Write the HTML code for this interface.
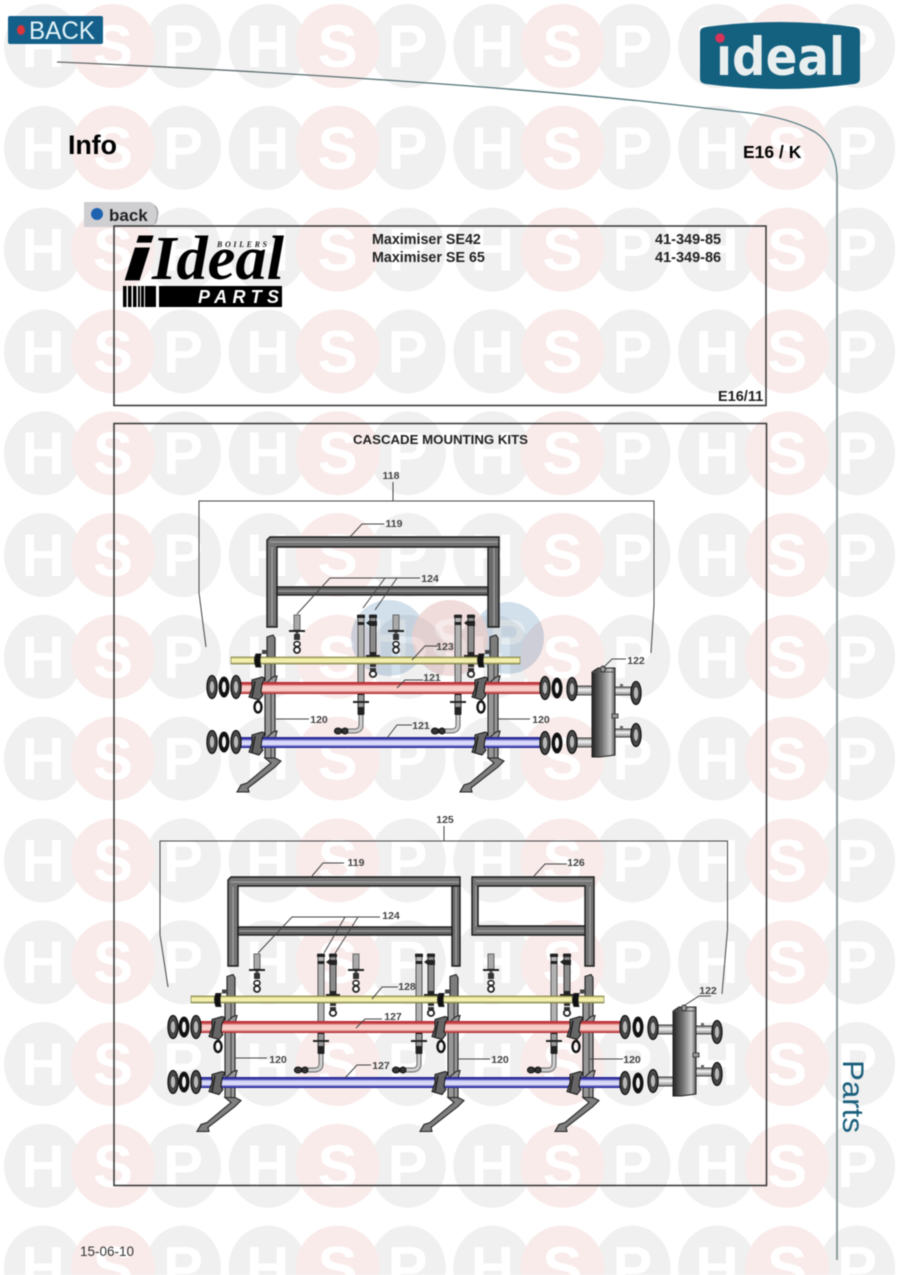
<!DOCTYPE html>
<html><head><meta charset="utf-8"><title>Cascade Mounting Kits</title>
<style>html,body{margin:0;padding:0;background:#fff}svg{display:block;filter:blur(.45px)}text{font-family:"Liberation Sans",sans-serif}</style>
</head><body>
<svg width="898" height="1275" viewBox="0 0 898 1275" xmlns="http://www.w3.org/2000/svg">
<defs>
<linearGradient id="line" x1="0" x2="1" y1="0" y2="0"><stop offset="0" stop-color="#666"/><stop offset=".6" stop-color="#4f7478"/><stop offset="1" stop-color="#5a7f86"/></linearGradient>
<linearGradient id="sep" x1="0" x2="1" y1="0" y2="0"><stop offset="0" stop-color="#222"/><stop offset=".45" stop-color="#777"/><stop offset=".8" stop-color="#ccc"/><stop offset="1" stop-color="#555"/></linearGradient>
<linearGradient id="rp" x1="0" x2="0" y1="0" y2="1"><stop offset="0" stop-color="#b3242c"/><stop offset=".2" stop-color="#c94a4e"/><stop offset=".34" stop-color="#f8c8c4"/><stop offset=".72" stop-color="#f9d0cb"/><stop offset=".86" stop-color="#cf5f60"/><stop offset="1" stop-color="#a52028"/></linearGradient>
<linearGradient id="bp" x1="0" x2="0" y1="0" y2="1"><stop offset="0" stop-color="#1d1d8a"/><stop offset=".2" stop-color="#4040b0"/><stop offset=".36" stop-color="#d4d4f8"/><stop offset=".7" stop-color="#dcdcfb"/><stop offset=".86" stop-color="#4646b8"/><stop offset="1" stop-color="#1d1d80"/></linearGradient>
<linearGradient id="yp" x1="0" x2="0" y1="0" y2="1"><stop offset="0" stop-color="#8a8a48"/><stop offset=".25" stop-color="#f0eda2"/><stop offset=".7" stop-color="#f6f3b4"/><stop offset="1" stop-color="#808044"/></linearGradient>
<linearGradient id="wp" x1="0" x2="0" y1="0" y2="1"><stop offset="0" stop-color="#777"/><stop offset=".4" stop-color="#f4f4f4"/><stop offset="1" stop-color="#888"/></linearGradient>

<g id="t">
<ellipse cx="43" cy="46" rx="39" ry="42" fill="#f0f0f0"/>
<ellipse cx="183" cy="46" rx="38" ry="42" fill="#f0f0f0"/>
<text x="43" y="67" font-size="60" font-weight="700" fill="#fff" text-anchor="middle">H</text>
<text x="183" y="67" font-size="60" font-weight="700" fill="#fff" text-anchor="middle">P</text>
<circle cx="113" cy="46" r="42" fill="#f9ebea"/>
<text x="113" y="67" font-size="60" font-weight="700" fill="#fff" text-anchor="middle">S</text>
</g>
<g id="r"><use href="#t"/><use href="#t" x="224.7"/><use href="#t" x="449.4"/><use href="#t" x="674.1"/></g>

<g id="stand" stroke="#222" stroke-width="1.100">
<path d="M267 637l6-2 2 3v24h-8z" fill="#7c7c7c"/>
<path d="M265 660h10v98h-10z" fill="#979797"/>
<path d="M271 660v98" stroke="#444" fill="none"/>
<path d="M265 758h10l6 3-6 6-27 21 1 4h-12l4-7 6-2 24-20z" fill="#7f7f7f"/>
<path d="M265 684l8-7 4-1-2 8-10 8zM265 739l8-7 4-1-2 8-10 8z" fill="#999"/>
</g>
<g id="clampY"><path d="M256 654q-3 6 0 13l5 0q-2-6 0-13z" fill="#111" stroke="#222"/><path d="M262 654h6v-4h-6z" fill="#444"/></g>
<g id="clamp"><path d="M252 680l10-3 3 1-3 6-1 8 2 3-4 5-10-3 3-9z" fill="#666" stroke="#111"/><path d="M255 681l-3 16" stroke="#222" stroke-width="1.6" fill="none"/></g>
<g id="ring"><ellipse cx="258" cy="707" rx="3.5" ry="5.5" fill="none" stroke="#111" stroke-width="2.4"/></g>

<g id="fl"><ellipse cx="0" cy="0" rx="5" ry="11.500" fill="#4a4a4a" stroke="#111" stroke-width="1.300"/><ellipse cx="0" cy="0" rx="2.800" ry="6.500" fill="#b8b8b8" stroke="#333"/></g>
<g id="wsh"><ellipse cx="0" cy="0" rx="5.500" ry="10.500" fill="#111"/><ellipse cx="0" cy="0" rx="2" ry="5.500" fill="#f2f2f2"/></g>

<g id="sepa">
<rect x="615" y="687" width="22" height="8" fill="url(#wp)" stroke="#444"/>
<rect x="615" y="729" width="22" height="8" fill="url(#wp)" stroke="#444"/>
<rect x="620" y="684" width="3" height="4" fill="#666"/><rect x="620" y="726" width="3" height="4" fill="#666"/>
<rect x="572" y="686" width="21" height="9" fill="url(#wp)" stroke="#444"/>
<rect x="572" y="738" width="21" height="9" fill="url(#wp)" stroke="#444"/>
<use href="#fl" x="572" y="689"/><use href="#fl" x="572" y="742"/>
<use href="#fl" x="636" y="693"/><use href="#fl" x="636" y="735"/>
<path d="M592 672l6-4h17v87l-15 2h-8z" fill="url(#sep)" stroke="#222"/>
<path d="M592 672h23" stroke="#555" fill="none"/>
<ellipse cx="603" cy="669" rx="2.5" ry="3" fill="#999" stroke="#333"/>
<rect x="612" y="714" width="6" height="4" fill="#999" stroke="#444"/>
</g>

<g id="bolt">
<rect x="-3" y="0" width="6" height="15" fill="#aaa" stroke="#666"/>
<rect x="-1.5" y="15" width="3" height="10" fill="#555"/>
<path d="M-8 16h16" stroke="#222" stroke-width="2"/>
<rect x="-3" y="19" width="6" height="6" fill="#333"/>
<ellipse cx="0" cy="29" rx="3" ry="2.4" fill="#fff" stroke="#222" stroke-width="1.6"/>
<ellipse cx="0" cy="35" rx="3" ry="3" fill="#fff" stroke="#222" stroke-width="1.8"/>
</g>
<g id="long">
<rect x="-3" y="0" width="6" height="68" fill="#b2b2b2" stroke="#555"/>
<rect x="-4" y="0" width="8" height="3" fill="#222"/><rect x="-3.500" y="7" width="7" height="3" fill="#222"/>
<rect x="-3" y="73" width="6" height="26" fill="#999" stroke="#333"/>
<rect x="-3" y="77" width="6" height="3" fill="#111"/><path d="M-8 87h16" stroke="#222" stroke-width="2"/><rect x="-3" y="92" width="6" height="8" fill="#222"/>
<path d="M0 100v10q0 6-7 6h-14" fill="none" stroke="#666" stroke-width="5"/>
<path d="M0 100v10q0 6-7 6h-14" fill="none" stroke="#ccc" stroke-width="3"/>
<ellipse cx="-23" cy="116" rx="3.600" ry="3" fill="#333" stroke="#111"/><ellipse cx="-16" cy="116" rx="3" ry="3" fill="#333" stroke="#111"/>
</g>
<g id="tube">
<rect x="-3" y="0" width="6" height="40" fill="#8b8b8b" stroke="#333"/>
<rect x="-4" y="0" width="8" height="3" fill="#222"/><path d="M-3 5l-4 3 4 3z M-3 6h7v5h-7z" fill="#222"/>
<rect x="-3" y="37" width="6" height="5" fill="#222"/>
<path d="M-7 41h14" stroke="#222" stroke-width="2"/>
<rect x="-3" y="48" width="6" height="4" fill="#333"/><rect x="-3" y="53" width="6" height="3" fill="#333"/>
<ellipse cx="0" cy="59" rx="3.200" ry="3" fill="#fff" stroke="#222" stroke-width="1.800"/>
</g>

<g id="frame1" fill="#757575" stroke="#1c1c1c" stroke-width="1.400">
<path d="M267 540l3-3h229v10h-222v80h-10z"/>
<path d="M488 547h11v80h-11z" fill="#6c6c6c"/>
<rect x="277" y="587" width="211" height="8" fill="#666"/>
<path d="M278 591h209M270 542h228" stroke="#a8a8a8" stroke-width="1" fill="none"/>
<path d="M272 547v78M494 548v78" stroke="#a8a8a8" stroke-width="1" fill="none"/>
</g>
</defs>

<rect width="898" height="1275" fill="#fff"/>
<use href="#r"/><use href="#r" y="101.8"/><use href="#r" y="203.6"/><use href="#r" y="305.4"/><use href="#r" y="407.2"/><use href="#r" y="509"/><use href="#r" y="610.8"/><use href="#r" y="712.6"/><use href="#r" y="814.4"/><use href="#r" y="916.2"/><use href="#r" y="1018"/><use href="#r" y="1119.8"/><use href="#r" y="1221.600"/>

<path d="M57 62C250 70 500 86 650 102L750 113Q790 118 815 132Q835 145 837 175V1260" fill="none" stroke="url(#line)" stroke-width="1.300"/>
<path d="M837 175V1260" fill="none" stroke="#8f9c9e" stroke-width="2"/>
<text transform="translate(843 1060) rotate(90)" font-size="30" fill="#1a5f7d" textLength="73" lengthAdjust="spacingAndGlyphs">Parts</text>

<rect x="8" y="16" width="95" height="28" rx="2" fill="#15608a"/>
<ellipse cx="21" cy="30" rx="4" ry="5" fill="#d8353c"/>
<text x="29" y="39" font-size="25" fill="#e4f4f8" textLength="66" lengthAdjust="spacingAndGlyphs">BACK</text>

<path d="M700 32Q700 28 706 27Q780 17 854 27Q860 28 860 32V79Q860 83 854 84Q780 94 706 84Q700 83 700 79Z" fill="#14607f"/>
<text x="716" y="75" font-size="53" font-weight="700" fill="#e9eeee" style="font-family:'DejaVu Sans',sans-serif" textLength="129" lengthAdjust="spacingAndGlyphs">ıdeal</text>
<circle cx="720" cy="38" r="4.800" fill="#d8335a"/>

<text x="68" y="154" font-size="27" font-weight="700" fill="#000" textLength="49">Info</text>
<text x="743" y="158" font-size="17.500" font-weight="700" fill="#000">E16 / K</text>

<path d="M84 202h66q8 3 9 11-2 7-6 14H84z" fill="#cfcfd2"/>
<path d="M155 206q5 7 0 18" stroke="#999" fill="none"/>
<circle cx="97" cy="214" r="6" fill="#1f62b0"/>
<text x="109" y="221" font-size="17" font-weight="700" fill="#222">back</text>

<rect x="114" y="226" width="652" height="179.500" fill="none" stroke="#333" stroke-width="1.500"/>
<rect x="114" y="423.500" width="652.500" height="762" fill="none" stroke="#333" stroke-width="1.500"/>

<text x="124" y="280" font-size="60" font-weight="700" font-style="italic" fill="#000" stroke="#000" stroke-width="1" textLength="27" lengthAdjust="spacingAndGlyphs">i</text>
<text x="152" y="279" font-size="62" font-weight="700" font-style="italic" fill="#000" style="font-family:'Liberation Serif',serif" textLength="132" lengthAdjust="spacingAndGlyphs">Ideal</text>
<text x="217" y="247" font-size="8" font-weight="700" font-style="italic" fill="#222" style="font-family:'Liberation Serif',serif" textLength="50">BOILERS</text>
<path d="M123 286h3.500v21H123zM128 286h3.500v21H128zM133 286h3.500v21H133zM138 286h2v21h-2zM141 286h3v21h-3zM145 286h11v21H145z" fill="#000"/>
<rect x="159" y="286" width="123" height="21" fill="#000"/>
<text x="198" y="303" font-size="18" font-weight="700" font-style="italic" fill="#fff" textLength="81">PARTS</text>

<g font-weight="700" fill="#222">
<text x="372" y="244" font-size="14.300">Maximiser SE42</text>
<text x="372" y="262" font-size="14.300">Maximiser SE 65</text>
<text x="655" y="244" font-size="14.500">41-349-85</text>
<text x="655" y="262" font-size="14.500">41-349-86</text>
<text x="718" y="401" font-size="14.500">E16/11</text>
<text x="353" y="444" font-size="13" textLength="175" lengthAdjust="spacingAndGlyphs">CASCADE MOUNTING KITS</text>
</g>
<text x="80" y="1256" font-size="13.500" fill="#333">15-06-10</text>

<g style="mix-blend-mode:multiply">
<circle cx="389" cy="638" r="38" fill="#d2e0ec"/>
<circle cx="508" cy="638" r="36" fill="#d2e0ec"/>
<circle cx="450" cy="638" r="38" fill="#f1dcdc"/>
<text x="389" y="658" font-size="56" font-weight="700" fill="#e4ecf2" text-anchor="middle">H</text>
<text x="450" y="658" font-size="56" font-weight="700" fill="#f6eaea" text-anchor="middle">S</text>
<text x="508" y="658" font-size="56" font-weight="700" fill="#e4ecf2" text-anchor="middle">P</text>
</g>

<g>
<use href="#frame1"/>
<use href="#bolt" x="297" y="615"/><use href="#bolt" x="396" y="615"/>
<use href="#long" x="361" y="615"/><use href="#long" x="458" y="615"/>
<use href="#tube" x="373" y="615"/><use href="#tube" x="471" y="615"/>
<use href="#stand"/><use href="#stand" x="223"/>
<rect x="231" y="657" width="289" height="7" fill="url(#yp)" stroke="#77773a" stroke-width=".6"/>
<rect x="235" y="682" width="306" height="12" fill="url(#rp)"/>
<rect x="235" y="737" width="306" height="11" fill="url(#bp)"/>
<use href="#clampY"/><use href="#clampY" x="223"/>
<use href="#clamp"/><use href="#clamp" x="223"/><use href="#clamp" y="55"/><use href="#clamp" x="223" y="55"/>
<use href="#ring"/><use href="#ring" x="223"/>
<use href="#fl" x="212" y="687"/><use href="#wsh" x="224" y="687"/><use href="#fl" x="236" y="687"/>
<use href="#fl" x="212" y="742"/><use href="#wsh" x="224" y="742"/><use href="#fl" x="236" y="742"/>
<use href="#fl" x="545" y="688"/><use href="#wsh" x="557" y="688"/>
<use href="#fl" x="545" y="743"/><use href="#wsh" x="557" y="743"/>
<use href="#sepa"/>
</g>

<g fill="none" stroke="#444" stroke-width="1">
<path d="M393 482V501M206 647L199 593V501H654V605L651 653"/>
<path d="M350 537L362 524H384M297 614L330 578H420M363 608L385 578M375 610L397 578"/>
<path d="M412 660L425 646H438M397 688L405 680H423M276 719H309M387 738L397 725H412M498 719H530M603 668L612 659H626"/>
</g>
<g font-size="10.500" font-weight="700" fill="#444" text-anchor="middle">
<text x="391" y="479">118</text><text x="394" y="527">119</text><text x="430" y="582">124</text><text x="445" y="650">123</text><text x="432" y="681">121</text><text x="319" y="723">120</text><text x="421" y="729">121</text><text x="541" y="723">120</text><text x="636" y="664">122</text>
</g>

<g>
<g fill="#757575" stroke="#1c1c1c" stroke-width="1.400">
<path d="M228 880l3-3h229v9h-222v80h-10z"/>
<path d="M452 886h8v80h-8z" fill="#6c6c6c"/>
<rect x="238" y="927" width="214" height="8" fill="#666"/>
<path d="M472 877h122v89h-9v-80h-107v40h107v9h-113z"/>
<path d="M476 886v40" stroke="#a8a8a8" stroke-width="1" fill="none"/>
<path d="M231 882h228M476 881h116M239 931h212M476 931h108M233 887v78M456 887v78M590 887v78" stroke="#a8a8a8" stroke-width="1" fill="none"/>
</g>
<use href="#bolt" x="257" y="954"/><use href="#bolt" x="356" y="954"/><use href="#bolt" x="491" y="954"/>
<use href="#long" x="321" y="954"/><use href="#long" x="419" y="954"/><use href="#long" x="554" y="954"/>
<use href="#tube" x="333" y="954"/><use href="#tube" x="431" y="954"/><use href="#tube" x="567" y="954"/>
<use href="#stand" x="-40" y="339.500"/><use href="#stand" x="183" y="339.500"/><use href="#stand" x="318" y="339.500"/>
<rect x="191" y="996" width="413" height="7" fill="url(#yp)" stroke="#77773a" stroke-width=".6"/>
<rect x="197" y="1021" width="425" height="12" fill="url(#rp)"/>
<rect x="197" y="1077" width="425" height="11" fill="url(#bp)"/>
<use href="#clampY" x="-40" y="339.500"/><use href="#clampY" x="183" y="339.500"/><use href="#clampY" x="318" y="339.500"/>
<use href="#clamp" x="-40" y="339.500"/><use href="#clamp" x="183" y="339.500"/><use href="#clamp" x="318" y="339.500"/>
<use href="#clamp" x="-40" y="394.500"/><use href="#clamp" x="183" y="394.500"/><use href="#clamp" x="318" y="394.500"/>
<use href="#ring" x="-40" y="339.500"/><use href="#ring" x="183" y="339.500"/><use href="#ring" x="318" y="339.500"/>
<use href="#fl" x="173" y="1027"/><use href="#wsh" x="184" y="1027"/><use href="#fl" x="196" y="1027"/>
<use href="#fl" x="173" y="1082"/><use href="#wsh" x="184" y="1082"/><use href="#fl" x="196" y="1082"/>
<use href="#fl" x="625" y="1027"/><use href="#wsh" x="638" y="1027"/>
<use href="#fl" x="625" y="1083"/><use href="#wsh" x="638" y="1083"/>
<use href="#sepa" x="81" y="339"/>
</g>

<g fill="none" stroke="#444" stroke-width="1">
<path d="M444 826V841M168 987L160 935V841H727.500V930L722 994"/>
<path d="M312 876L323 863H344M534 876L545 864H567M258 953L292 917H380M324 953L345 917M334 955L358 917"/>
<path d="M372 999L382 987H398M356 1028L365 1019H382M235 1058H267M345 1078L357 1065H371M458 1059H490M590 1059H623M685 1005L699 996H711"/>
</g>
<g font-size="10.500" font-weight="700" fill="#444" text-anchor="middle">
<text x="445" y="823">125</text><text x="356" y="866">119</text><text x="576" y="866">126</text><text x="391" y="919">124</text><text x="407" y="990">128</text><text x="393" y="1020">127</text><text x="278" y="1063">120</text><text x="381" y="1069">127</text><text x="500" y="1063">120</text><text x="632" y="1063">120</text><text x="708" y="994">122</text>
</g>
</svg>
</body></html>
